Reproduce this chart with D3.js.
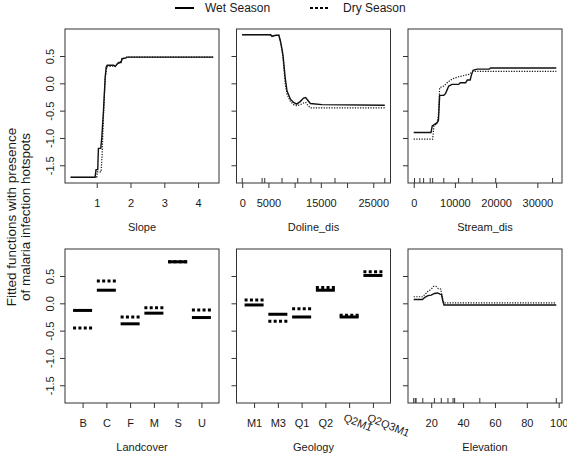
<!DOCTYPE html>
<html><head><meta charset="utf-8">
<script src="https://cdn.jsdelivr.net/npm/d3@7"></script>
<style>
body{margin:0;background:#fff}
svg{display:block}
text{font-family:"Liberation Sans",Arial,Helvetica,sans-serif;fill:#1a1a1a}
</style>
</head><body>
<svg id="c" width="567" height="454"></svg>
<script>
// ---------------- data ----------------
const seriesNames = ["Wet Season", "Dry Season"];
const yTicks = [-1.5, -1.0, -0.5, 0.0, 0.5];
const yTickLabels = ["-1.5", "-1.0", "-0.5", "0.0", "0.5"];
const yTitleLines = ["Fitted functions with presence", "of malaria infection hotspots"];

// Slope
const slopeWetX = [0.23,0.95,0.98,1.03,1.05,1.12,1.15,1.2,1.25,1.28,1.31,1.5,1.55,1.6,1.65,1.72,1.75,1.85,1.9,4.45];
const slopeWetY = [-1.72,-1.72,-1.58,-1.58,-1.19,-1.19,-1.0,-0.5,0.1,0.3,0.33,0.33,0.31,0.35,0.38,0.38,0.45,0.46,0.48,0.48];
const slopeDryX = [0.23,1.0,1.02,1.13,1.16,1.2,1.25,1.3,1.5,1.55,1.6,1.7,1.75,1.85,1.9,4.45];
const slopeDryY = [-1.72,-1.72,-1.62,-1.62,-1.3,-0.6,0.1,0.30,0.32,0.31,0.35,0.38,0.45,0.47,0.48,0.48];
const slopeTicks = [1, 2, 3, 4];
const slopeTickLabels = ["1", "2", "3", "4"];
const slopeRug = [];

// Doline_dis
const dolineWetX = [0,5400,5700,6000,6500,7000,7300,7600,7800,8200,8550,9200,9800,10400,11100,11700,12100,12500,13000,15200,27200];
const dolineWetY = [0.89,0.89,0.86,0.87,0.88,0.88,0.77,0.62,0.5,0.1,-0.14,-0.29,-0.35,-0.38,-0.33,-0.27,-0.26,-0.31,-0.37,-0.39,-0.40];
const dolineDryX = [0,5400,5700,6000,6500,7000,7300,7600,7800,8200,8550,9200,9800,10400,11100,11700,12100,12500,13000,27200];
const dolineDryY = [0.89,0.89,0.86,0.87,0.88,0.88,0.75,0.6,0.45,0.0,-0.2,-0.33,-0.39,-0.41,-0.39,-0.36,-0.35,-0.40,-0.45,-0.45];
const dolineTicks = [0, 5000, 10000, 15000, 20000, 25000];
const dolineTickLabels = ["0", "5000", "", "15000", "", "25000"];
const dolineRug = [0, 3800, 4300, 7600, 10600, 13100, 17700, 27200];

// Stream_dis
const streamWetX = [0,4200,4500,4900,5700,6000,6300,7300,7700,8100,8500,9300,10900,11300,12600,13000,13700,14000,14400,15400,18300,18700,34600];
const streamWetY = [-0.90,-0.90,-0.78,-0.76,-0.72,-0.68,-0.22,-0.22,-0.19,-0.12,-0.05,-0.02,-0.02,0.01,0.01,0.06,0.06,0.15,0.24,0.26,0.26,0.28,0.28];
const streamDryX = [0,4600,4900,5600,6000,6300,7300,8100,9300,10900,12600,13700,14000,14400,34600];
const streamDryY = [-1.02,-1.02,-0.78,-0.74,-0.60,-0.08,-0.05,0.01,0.08,0.12,0.15,0.17,0.20,0.22,0.22];
const streamTicks = [0, 10000, 20000, 30000];
const streamTickLabels = ["0", "10000", "20000", "30000"];
const streamRug = [200, 1500, 2400, 4000, 4600, 7300, 10900, 14200, 19900, 33700];

// Landcover
const landLevels = ["B", "C", "F", "M", "S", "U"];
const landWet = [-0.13, 0.24, -0.375, -0.18, 0.76, -0.26];
const landDry = [-0.45, 0.41, -0.25, -0.08, 0.76, -0.12];

// Geology
const geoLevels = ["M1", "M3", "Q1", "Q2", "Q2M1", "Q2Q3M1"];
const geoWet = [-0.03, -0.20, -0.25, 0.24, -0.25, 0.51];
const geoDry = [0.06, -0.33, -0.10, 0.29, -0.22, 0.58];

// Elevation
const elevWetX = [9,14.5,16,18,20,22,24,25.5,26.5,27.2,28,98.5];
const elevWetY = [0.07,0.07,0.11,0.14,0.15,0.18,0.19,0.17,0.16,0.05,-0.03,-0.03];
const elevDryX = [9,14.5,16,18,20,21.5,23,24.5,26,27,28,98.5];
const elevDryY = [0.12,0.12,0.16,0.22,0.26,0.31,0.31,0.27,0.26,0.10,0.01,0.01];
const elevTicks = [20, 40, 60, 80, 100];
const elevTickLabels = ["20", "40", "60", "80", "100"];
const elevRug = [9, 10, 10.5, 14.7, 22, 26.3, 30.5, 33.7, 34.7, 50.5, 98.5];

// ---------------- drawing ----------------
const svg = d3.select("#c");
const W = 154, H = 154;
const colX = [65, 236.5, 408], rowY = [29, 249];
const FONT = '"Liberation Sans", Arial, Helvetica, sans-serif';

function ext4(arr) {
  const e = d3.extent(arr); const p = (e[1] - e[0]) * 0.04;
  return [e[0] - p, e[1] + p];
}
const yDomain = ext4([].concat(slopeWetY, slopeDryY, dolineWetY, dolineDryY, streamWetY, streamDryY,
  landWet, landDry, geoWet, geoDry, elevWetY, elevDryY));

function base(col, row, xDomain, title) {
  const g = svg.append("g").attr("transform", `translate(${colX[col]},${rowY[row]})`);
  const x = d3.scaleLinear().domain(xDomain).range([0, W]);
  const y = d3.scaleLinear().domain(yDomain).range([H, 0]);
  const ya = g.append("g").call(d3.axisLeft(y).tickValues(yTicks).tickSize(5)
      .tickFormat((d, i) => col === 0 ? yTickLabels[i] : ""));
  ya.select(".domain").remove();
  ya.attr("font-size", 11).attr("font-family", FONT);
  ya.selectAll("line").attr("stroke", "#333");
  ya.selectAll("text").attr("x", null).attr("dy", null)
    .attr("transform", "translate(-15,0) rotate(-90)")
    .attr("text-anchor", "middle").attr("dominant-baseline", "central").attr("fill", "#1a1a1a");
  g.append("text").attr("x", W / 2).attr("y", H + 44).attr("text-anchor", "middle")
    .attr("dominant-baseline", "central").attr("font-size", 11).text(title);
  return {g, x, y};
}

function xAxis(p, ticks, labels, rotateLong) {
  const xa = p.g.append("g").attr("transform", `translate(0,${H})`)
    .call(d3.axisBottom(p.x).tickValues(ticks).tickSize(5).tickFormat((d, i) => labels[i]));
  xa.select(".domain").remove();
  xa.attr("font-size", 11).attr("font-family", FONT);
  xa.selectAll("line").attr("stroke", "#333");
  xa.selectAll("text").attr("y", 20).attr("dy", null).attr("dominant-baseline", "central").attr("fill", "#1a1a1a");
  if (rotateLong) {
    xa.selectAll("text").filter(function() { return this.textContent.length > 2; })
      .attr("text-anchor", "start").attr("y", null).attr("dominant-baseline", "hanging")
      .attr("transform", "translate(-4,10) rotate(22)");
  }
}

function box(p) {
  p.g.append("rect").attr("width", W).attr("height", H).attr("fill", "none")
    .attr("stroke", "#333").attr("stroke-width", 1);
}

function continuous(col, row, title, wx, wy, dx, dy, ticks, labels, rug) {
  const p = base(col, row, ext4(wx.concat(dx)), title);
  xAxis(p, ticks, labels, false);
  p.g.append("g").selectAll("line").data(rug).join("line")
    .attr("x1", d => p.x(d)).attr("x2", d => p.x(d)).attr("y1", H).attr("y2", H - 5)
    .attr("stroke", "#333");
  const line = d3.line().x(d => p.x(d[0])).y(d => p.y(d[1]));
  p.g.append("path").datum(dx.map((v, i) => [v, dy[i]])).attr("d", line)
    .attr("fill", "none").attr("stroke", "#111").attr("stroke-width", 1.2).attr("stroke-dasharray", "1.2,1.4");
  p.g.append("path").datum(wx.map((v, i) => [v, wy[i]])).attr("d", line)
    .attr("fill", "none").attr("stroke", "#111").attr("stroke-width", 1.4);
  box(p);
}

function factor(col, row, title, levels, wet, dry, rotateLong) {
  const p = base(col, row, ext4([0, levels.length]), title);
  xAxis(p, levels.map((d, i) => i + 0.5), levels, rotateLong);
  p.g.append("g").selectAll("line").data(wet).join("line")
    .attr("x1", (d, i) => p.x(i + 0.1)).attr("x2", (d, i) => p.x(i + 0.9))
    .attr("y1", d => p.y(d)).attr("y2", d => p.y(d))
    .attr("stroke", "#000").attr("stroke-width", 3);
  p.g.append("g").selectAll("line").data(dry).join("line")
    .attr("x1", (d, i) => p.x(i + 0.1)).attr("x2", (d, i) => p.x(i + 0.9))
    .attr("y1", d => p.y(d)).attr("y2", d => p.y(d))
    .attr("stroke", "#000").attr("stroke-width", 3).attr("stroke-dasharray", "3,2.33");
  box(p);
}

continuous(0, 0, "Slope", slopeWetX, slopeWetY, slopeDryX, slopeDryY, slopeTicks, slopeTickLabels, slopeRug);
continuous(1, 0, "Doline_dis", dolineWetX, dolineWetY, dolineDryX, dolineDryY, dolineTicks, dolineTickLabels, dolineRug);
continuous(2, 0, "Stream_dis", streamWetX, streamWetY, streamDryX, streamDryY, streamTicks, streamTickLabels, streamRug);
factor(0, 1, "Landcover", landLevels, landWet, landDry, false);
factor(1, 1, "Geology", geoLevels, geoWet, geoDry, true);
continuous(2, 1, "Elevation", elevWetX, elevWetY, elevDryX, elevDryY, elevTicks, elevTickLabels, elevRug);

// y title
const yt = svg.append("g").attr("transform", "translate(0,217) rotate(-90)");
yt.selectAll("text").data(yTitleLines).join("text")
  .attr("x", 0).attr("y", (d, i) => i === 0 ? 11.5 : 25)
  .attr("text-anchor", "middle").attr("dominant-baseline", "central")
  .attr("font-size", 13.5).text(d => d);

// legend
const lg = svg.append("g");
const legX = [175, 310], legTextX = [205, 343];
seriesNames.forEach((name, i) => {
  lg.append("line").attr("x1", legX[i]).attr("x2", legX[i] + (i === 0 ? 19 : 18))
    .attr("y1", 8).attr("y2", 8).attr("stroke", "#000").attr("stroke-width", 2)
    .attr("stroke-dasharray", i === 0 ? null : "3,2");
  lg.append("text").attr("x", legTextX[i]).attr("y", 8).attr("dominant-baseline", "central")
    .attr("font-size", 12).text(name);
});
</script>
</body></html>
